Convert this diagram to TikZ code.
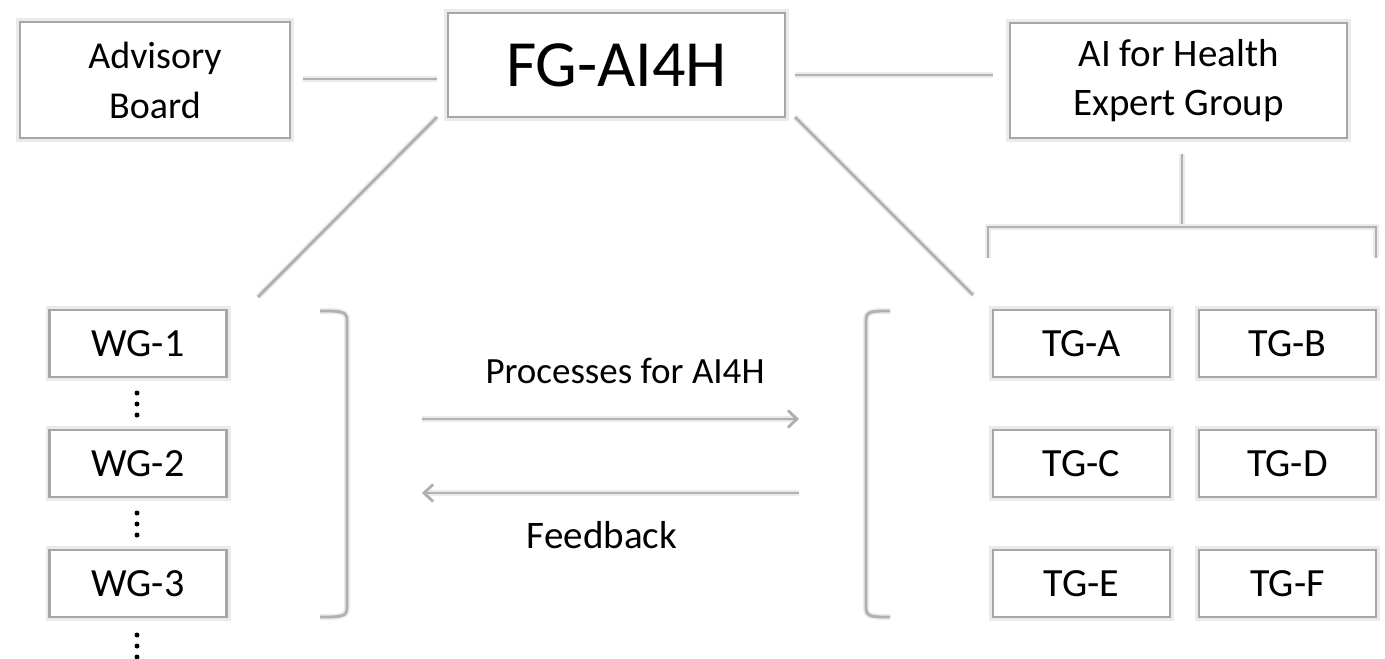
\documentclass[tikz,border=0pt]{standalone}
\usepackage{fontspec}
\setmainfont{Carlito}
\usetikzlibrary{arrows.meta}
\definecolor{boxline}{HTML}{A6A6A6}
\definecolor{conline}{HTML}{B0B0B0}
\definecolor{glow}{HTML}{EBEBEB}
\begin{document}
\begin{tikzpicture}[x=1pt,y=-1pt,
  gbox/.style={draw=boxline, line width=2.6pt, fill=white, inner sep=0pt,
    align=center, preaction={draw=glow, line width=8pt}},
  bigbox/.style={gbox, minimum width=337pt},
  smallbox/.style={gbox, minimum width=177pt, minimum height=67pt, font=\fontsize{40}{48}\selectfont},
  conn/.style={draw=conline, line width=2.8pt, preaction={draw=glow, line width=6pt}},
  arr/.style={conn, -{Straight Barb[length=9pt,width=17pt,line width=2.8pt]}},
  lbl/.style={anchor=base, inner sep=0pt},
  dot/.style={circle, fill=black, inner sep=0pt, minimum size=5pt}
]
\useasboundingbox[fill=white] (0,0) rectangle (1385,659);

% top row
\node[gbox, minimum width=270pt, minimum height=116pt, font=\fontsize{38}{50}\selectfont] (ab) at (155,80) {Advisory\\Board};
\node[bigbox, minimum height=104pt, font=\fontsize{66}{76}\selectfont] (fg) at (616.5,65) {FG-AI4H};
\node[bigbox, minimum height=115pt, font=\fontsize{39}{49}\selectfont] (aih) at (1178.5,80.5) {AI for Health\\Expert Group};

% working groups
\node[smallbox] (wg1) at (138,343.5) {WG-1};
\node[smallbox] (wg2) at (138,463.5) {WG-2};
\node[smallbox] (wg3) at (138,583.5) {WG-3};

% topic groups
\node[smallbox] (tga) at (1081.5,343.5) {TG-A};
\node[smallbox] (tgb) at (1287.5,343.5) {TG-B};
\node[smallbox] (tgc) at (1081.5,463.5) {TG-C};
\node[smallbox] (tgd) at (1287.5,463.5) {TG-D};
\node[smallbox] (tge) at (1081.5,583.5) {TG-E};
\node[smallbox] (tgf) at (1287.5,583.5) {TG-F};

% vertical dots
\foreach \y in {393,404,415, 513,524,535, 635,646,657}
  \node[dot] at (137,\y) {};

% coordinates for free ends
\coordinate (abr) at (303,79);
\coordinate (fgl) at (437,79);
\coordinate (fgr) at (795,75);
\coordinate (aihl) at (993,75);
\coordinate (fgbl) at (437,117);
\coordinate (wgtop) at (258,297);
\coordinate (fgbr) at (795,117);
\coordinate (tgtop) at (973,295);
\coordinate (aihb) at (1182,154);
\coordinate (branch) at (1182,227);
\coordinate (bl) at (988,227);
\coordinate (br) at (1376,227);
\coordinate (bld) at (988,258);
\coordinate (brd) at (1376,258);

% connectors
\draw[conn] (abr) -- (fgl);
\draw[conn] (fgr) -- (aihl);
\draw[conn] (fgbl) -- (wgtop);
\draw[conn] (fgbr) -- (tgtop);
\draw[conn] (aihb) -- (branch);
\draw[conn] (bld) -- (bl) -- (br) -- (brd);

% brackets
\coordinate (lb1) at (320,311);
\coordinate (lb2) at (320,617);
\coordinate (rb1) at (890,311);
\coordinate (rb2) at (890,617);
\draw[conn] (lb1) .. controls (340,311) and (347,311) .. (347,320) -- (347,608) .. controls (347,617) and (340,617) .. (lb2);
\draw[conn] (rb1) .. controls (872,311) and (866,311) .. (866,320) -- (866,608) .. controls (866,617) and (872,617) .. (rb2);

% arrows
\coordinate (a1s) at (422,419);
\coordinate (a1e) at (799,419);
\coordinate (a2s) at (799,493);
\coordinate (a2e) at (422,493);
\draw[arr] (a1s) -- (a1e);
\draw[arr] (a2s) -- (a2e);

\node[lbl, font=\fontsize{37}{44}\selectfont] (proc) at (625,383) {Processes for AI4H};
\node[lbl, font=\fontsize{39}{46}\selectfont] (feed) at (602,548) {Feedback};
\end{tikzpicture}
\end{document}
